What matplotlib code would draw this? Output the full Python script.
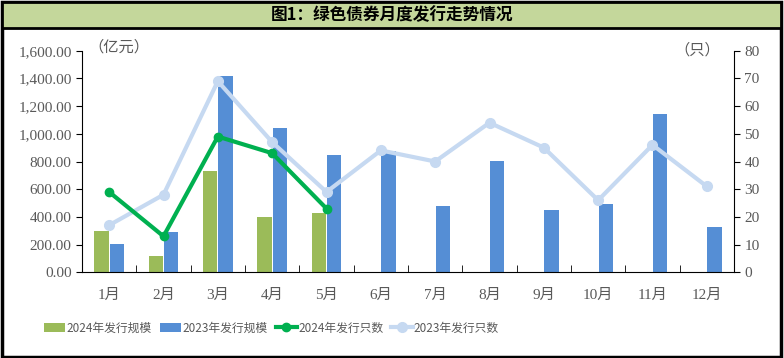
import matplotlib
matplotlib.use("Agg")
import matplotlib.pyplot as plt
from matplotlib.patches import Rectangle
from matplotlib.ticker import FuncFormatter, FixedLocator
import numpy as np

months = ["1月", "2月", "3月", "4月", "5月", "6月", "7月", "8月", "9月", "10月", "11月", "12月"]
scale_2024 = [300, 120, 730, 400, 430]
scale_2023 = [205, 290, 1417, 1041, 847, 873, 479, 804, 450, 493, 1143, 327]
count_2024 = [29, 13, 49, 43, 23]
count_2023 = [17, 28, 69, 47, 29, 44, 40, 54, 45, 26, 46, 31]

MIXED = ["Liberation Serif", "Noto Sans CJK SC"]
GREY = "#595959"
plt.rcParams["font.family"] = MIXED

fig = plt.figure(figsize=(7.84, 3.58), dpi=100)

# outer frame and title band
fig.patches.append(Rectangle((0.002, 0.004), 0.994, 0.99, transform=fig.transFigure,
                             fill=False, ec="black", lw=2.5, zorder=0))
fig.patches.append(Rectangle((0.002, 1 - 28 / 358), 0.994, 26 / 358, transform=fig.transFigure,
                             fc="#C4D79B", ec="black", lw=2.0, zorder=0))
fig.text(0.5, 1 - 15 / 358, "图1：绿色债券月度发行走势情况", ha="center", va="center",
         fontsize=12, fontweight="bold", family="Noto Sans CJK SC", color="black")

ax = fig.add_axes([82 / 784, 1 - 272.3 / 358, (734 - 82) / 784, (272.3 - 50.7) / 358])
x = np.arange(len(months))
w = 0.26
b1 = ax.bar(x[:len(scale_2024)] - 0.14, scale_2024, w, color="#9BBB59", label="2024年发行规模")
b2 = ax.bar(x + 0.14, scale_2023, w, color="#558ED5", label="2023年发行规模")
ax.set_xlim(-0.5, 11.5)
ax.set_ylim(0, 1600)
ax.set_yticks(np.arange(0, 1601, 200))
ax.yaxis.set_major_formatter(FuncFormatter(lambda v, p: f"{v:,.2f}"))
ax.set_xticks(x)
ax.set_xticklabels(months)
ax.xaxis.set_minor_locator(FixedLocator(np.arange(-0.5, 12, 1)))
ax.tick_params(axis="x", which="major", length=0, pad=12)
ax.tick_params(axis="x", which="minor", length=5, direction="in", color="black")
ax.tick_params(axis="y", length=4, direction="out", color="black")
for s in ["top", "right"]:
    ax.spines[s].set_visible(False)
ax.spines["left"].set_color("black")
ax.spines["bottom"].set_color("black")

ax2 = ax.twinx()
l2, = ax2.plot(x, count_2023, color="#C6D9F1", lw=3, marker="o", ms=7, label="2023年发行只数", zorder=3)
l1, = ax2.plot(x[:len(count_2024)], count_2024, color="#00B050", lw=3, marker="o", ms=6,
               label="2024年发行只数", zorder=4)
ax2.set_ylim(0, 80)
ax2.set_yticks(np.arange(0, 81, 10))
ax2.tick_params(axis="y", length=4, direction="out", color="black")
for s in ["top", "left"]:
    ax2.spines[s].set_visible(False)
ax2.spines["right"].set_color("black")
ax2.spines["bottom"].set_visible(False)

for a in (ax, ax2):
    a.tick_params(labelsize=11, labelcolor=GREY)

fig.text(88 / 784, 1 - 47 / 358, "（亿元）", ha="left", va="center", fontsize=11,
         family="Noto Sans CJK SC", color=GREY)
fig.text(720 / 784, 1 - 50 / 358, "（只）", ha="right", va="center", fontsize=11,
         family="Noto Sans CJK SC", color=GREY)

leg = fig.legend(handles=[b1, b2, l1, l2], loc="center left", bbox_to_anchor=(44 / 784, 1 - 328 / 358),
                 ncol=4, frameon=False, prop={"family": "Noto Sans CJK SC", "size": 8.5},
                 handlelength=1.8, handletextpad=0.1, columnspacing=0.7, labelcolor=GREY,
                 borderaxespad=0, borderpad=0)

fig.savefig("out.png", dpi=100)
